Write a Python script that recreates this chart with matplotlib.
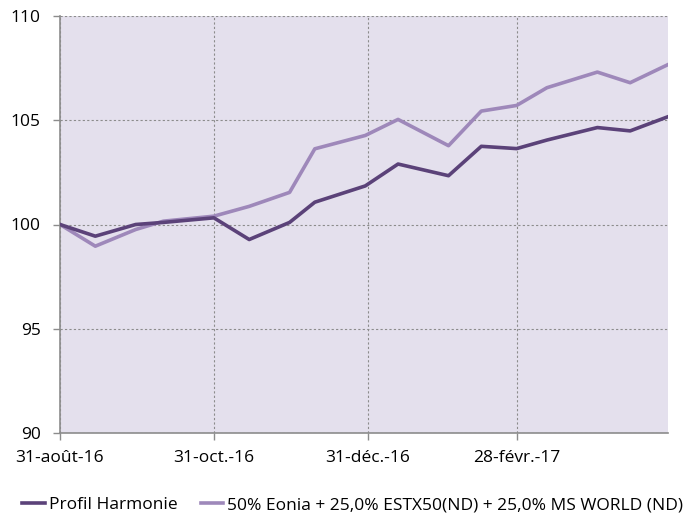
import numpy as np
import pandas as pd
import matplotlib
matplotlib.use("Agg")
import matplotlib.pyplot as plt
import matplotlib.dates as mdates

dates = pd.to_datetime([
    "2016-08-31", "2016-09-14", "2016-09-30", "2016-10-11", "2016-10-31",
    "2016-11-14", "2016-11-30", "2016-12-10", "2016-12-30", "2017-01-12",
    "2017-02-01", "2017-02-14", "2017-02-28", "2017-03-12", "2017-04-01",
    "2017-04-14", "2017-04-29",
])
profil = [100.0, 99.44, 100.0, 100.1, 100.32, 99.28, 100.1, 101.07, 101.85,
          102.9, 102.34, 103.75, 103.64, 104.05, 104.65, 104.49, 105.17]
indice = [100.0, 98.96, 99.76, 100.16, 100.4, 100.87, 101.54, 103.63, 104.27,
          105.04, 103.78, 105.44, 105.71, 106.56, 107.31, 106.8, 107.67]

tick_dates = pd.to_datetime(["2016-08-31", "2016-10-31", "2016-12-31", "2017-02-28"])
tick_labels = ["31-août-16", "31-oct.-16", "31-déc.-16", "28-févr.-17"]
y_ticks = [90, 95, 100, 105, 110]

plt.rcParams["font.family"] = ["Open Sans", "DejaVu Sans"]

fig = plt.figure(figsize=(6.92, 5.24), dpi=100)
ax = fig.add_axes([60 / 692, 1 - 433 / 524, 608 / 692, 417 / 524])
ax.set_facecolor("#e4e0ed")

ax.plot(dates, profil, color="#5b4279", lw=2.6, label="Profil Harmonie", zorder=3)
ax.plot(dates, indice, color="#9e88ba", lw=2.6,
        label="50% Eonia + 25,0% ESTX50(ND) + 25,0% MS WORLD (ND)", zorder=2)

ax.set_xlim(dates[0], dates[-1])
ax.set_ylim(90, 110)
ax.set_yticks(y_ticks)
ax.set_xticks(tick_dates)
ax.set_xticklabels(tick_labels)

ax.grid(True, color="#8c8c8c", linestyle=(0, (2, 2)), linewidth=0.8)
for s in ["top", "right"]:
    ax.spines[s].set_visible(False)
for s in ["left", "bottom"]:
    ax.spines[s].set_color("#8c8c8c")
    ax.spines[s].set_linewidth(1.2)
ax.tick_params(axis="both", colors="#8c8c8c", labelcolor="black", labelsize=12.5,
               length=5, width=1)
ax.tick_params(axis="x", pad=7)
ax.tick_params(axis="y", pad=9)

fig.legend(loc="center", bbox_to_anchor=(0.51, 0.036), ncol=2, frameon=False,
           fontsize=12.5, handlelength=1.3, handletextpad=0.25, columnspacing=1.3)

fig.savefig("out.png", dpi=100)
